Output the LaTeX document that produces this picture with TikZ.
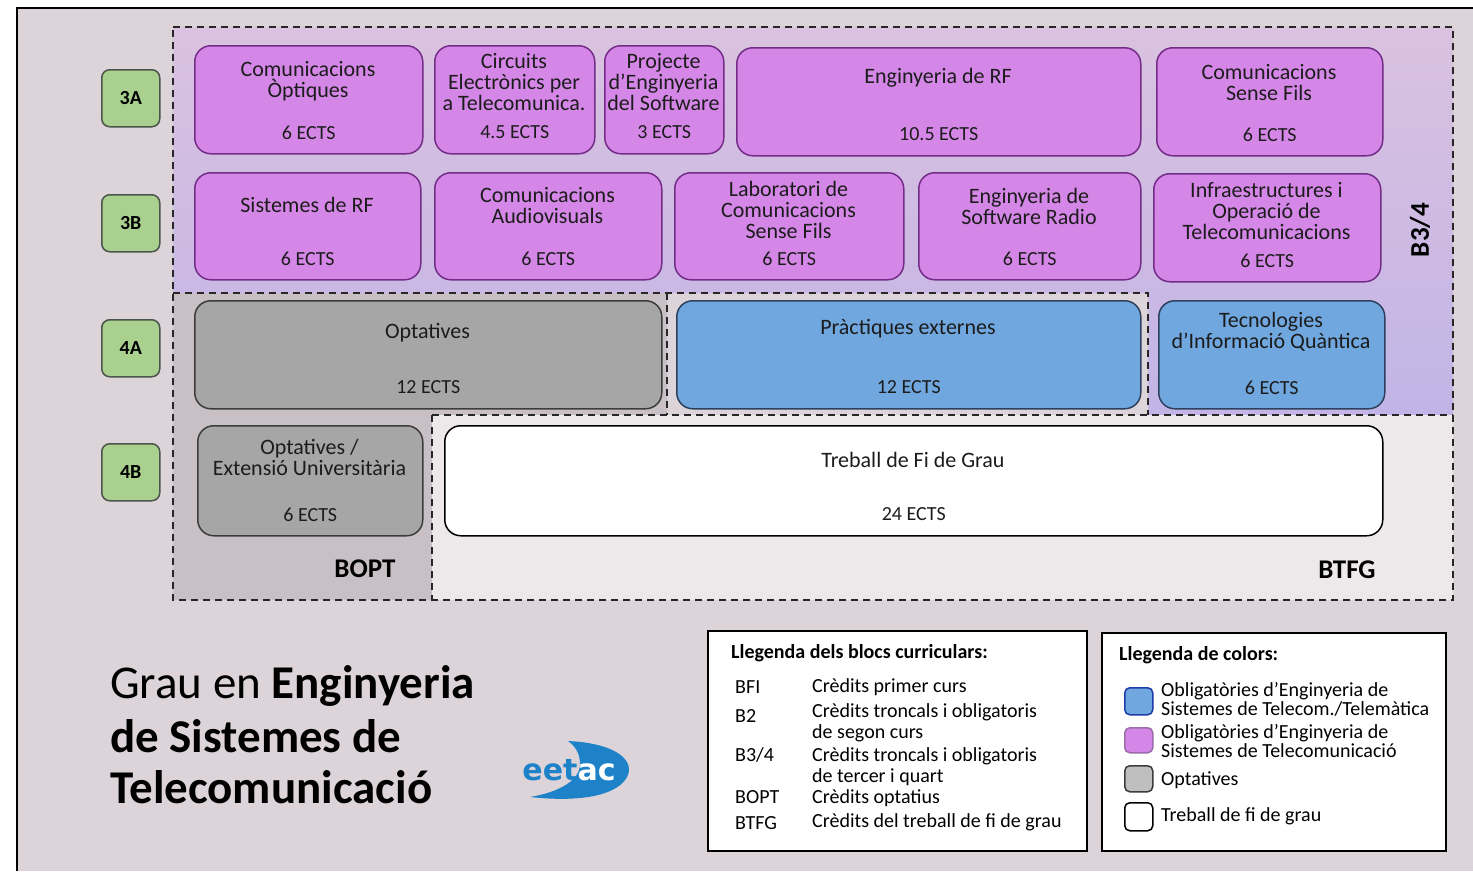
\documentclass[tikz,border=0pt]{standalone}
\usepackage{fontspec}
\setmainfont{Carlito}
\newfontfamily\logofont{DejaVu Sans}
\usetikzlibrary{calc}
\definecolor{pagebg}{RGB}{221,212,217}
\definecolor{boptbg}{RGB}{200,192,196}
\definecolor{btfgbg}{RGB}{237,233,235}
\definecolor{btop}{RGB}{218,194,224}
\definecolor{bbot}{RGB}{194,180,230}
\definecolor{cpurple}{RGB}{213,135,232}
\definecolor{cpurpleline}{RGB}{115,45,135}
\definecolor{cblue}{RGB}{111,167,222}
\definecolor{cblueline}{RGB}{45,65,95}
\definecolor{cgrey}{RGB}{166,166,166}
\definecolor{cgreyline}{RGB}{60,60,60}
\definecolor{cgreen}{RGB}{169,208,142}
\definecolor{cgreenline}{RGB}{75,85,75}
\definecolor{txt}{RGB}{28,28,28}
\definecolor{logoblue}{RGB}{30,130,200}
\definecolor{swblue}{RGB}{30,60,170}
\newcommand{\mkcourse}[9]{%
  \node[#2, anchor=north west, minimum width=#5pt-#3pt, minimum height=#6pt-#4pt] (#1) at (#3,#4) {};
  \node[ctext] (#1t) at ({(#3+#5)/2},#7) {#8};
  \node[etext] (#1e) at ([yshift=22pt]#1.south) {#9};
}
\begin{document}
\begin{tikzpicture}[x=1pt,y=-1pt,
  course/.style={rounded corners=16pt, line width=1.5pt, inner sep=0pt},
  pbox/.style={course, fill=cpurple, draw=cpurpleline},
  bbox/.style={course, fill=cblue, draw=cblueline},
  gbox/.style={course, fill=cgrey, draw=cgreyline},
  wbox/.style={course, fill=white, draw=black},
  ctext/.style={align=center, inner sep=0pt, text=txt, font=\fontsize{22}{21}\selectfont},
  etext/.style={inner sep=0pt, text=txt, font=\fontsize{20}{22}\selectfont},
  rowlab/.style={rounded corners=8pt, fill=cgreen, draw=cgreenline, line width=1.5pt, anchor=north west, minimum width=58pt, minimum height=57pt, inner sep=0pt, font=\bfseries\fontsize{20}{22}\selectfont},
  dashline/.style={line width=2pt, dash pattern=on 7pt off 5pt, draw=black!85},
  blocklab/.style={inner sep=0pt, font=\bfseries\fontsize{27}{30}\selectfont},
  legtext/.style={anchor=base west, inner sep=0pt, text=black, font=\fontsize{20}{22}\selectfont},
  swatch/.style={rounded corners=5pt, line width=1.5pt, anchor=north west, minimum width=28pt, minimum height=27pt, inner sep=0pt}
]
\useasboundingbox (0,0) rectangle (1473,871);
\fill[white] (0,0) rectangle (1473,871);
\fill[pagebg] (17,8) rectangle (1473,871);
\draw[line width=1.5pt] (17,871) -- (17,8) -- (1473,8);

% block regions
\shade[top color=btop, bottom color=bbot] (173,27) -- (1453,27) -- (1453,415) -- (1148,415) -- (1148,293) -- (173,293) -- cycle;
\fill[boptbg] (173,293) -- (667,293) -- (667,415) -- (432,415) -- (432,600) -- (173,600) -- cycle;
\fill[btfgbg] (432,415) rectangle (1453,600);
\draw[dashline] (173,27) -- (1453,27) -- (1453,600) -- (173,600) -- cycle;
\draw[dashline] (173,293) -- (1148,293) -- (1148,415);
\draw[dashline] (667,293) -- (667,415);
\draw[dashline] (432,415) -- (1453,415);
\draw[dashline] (432,415) -- (432,600);

% row labels
\node[rowlab] (r3a) at (101,69) {3A};
\node[rowlab] (r3b) at (101,194) {3B};
\node[rowlab] (r4a) at (101,319) {4A};
\node[rowlab] (r4b) at (101,443) {4B};

% courses
\mkcourse{co}{pbox}{194}{45}{422}{153}{81.5}{Comunicacions\\Òptiques}{6 ECTS}
\mkcourse{ce}{pbox}{434}{45}{594}{153}{82}{Circuits\\Electrònics per\\a Telecomunica.}{4.5 ECTS}
\mkcourse{pe}{pbox}{604}{45}{723}{153}{82}{Projecte\\d’Enginyeria\\del Software}{3 ECTS}
\mkcourse{er}{pbox}{736}{47}{1140}{155}{78}{Enginyeria de RF}{10.5 ECTS}
\mkcourse{cs}{pbox}{1156}{47}{1382}{155}{83}{Comunicacions\\Sense Fils}{6 ECTS}
\mkcourse{sr}{pbox}{194}{172}{420}{279}{205}{Sistemes de RF}{6 ECTS}
\mkcourse{ca}{pbox}{434}{172}{661}{279}{206}{Comunicacions\\Audiovisuals}{6 ECTS}
\mkcourse{lc}{pbox}{674}{172}{903}{279}{210}{Laboratori de\\Comunicacions\\Sense Fils}{6 ECTS}
\mkcourse{es}{pbox}{918}{172}{1140}{279}{206}{Enginyeria de\\Software Radio}{6 ECTS}
\mkcourse{io}{pbox}{1153}{173}{1380}{281}{211}{Infraestructures i\\Operació de\\Telecomunicacions}{6 ECTS}
\mkcourse{op}{gbox}{194}{300}{661}{408}{333}{Optatives}{12 ECTS}
\mkcourse{px}{bbox}{676}{300}{1140}{408}{329}{Pràctiques externes}{12 ECTS}
\mkcourse{tq}{bbox}{1158}{300}{1384}{408}{332}{Tecnologies\\d’Informació Quàntica}{6 ECTS}
\mkcourse{oe}{gbox}{197}{425}{422}{535}{457}{Optatives /\\Extensió Universitària}{6 ECTS}
\mkcourse{tf}{wbox}{444}{425}{1382}{535}{460}{Treball de Fi de Grau}{24 ECTS}

% block labels
\node[blocklab] (lbopt) at (365,569) {BOPT};
\node[blocklab] (lbtfg) at (1347,570) {BTFG};
\node[blocklab, rotate=90] (lb34) at (1420,230) {B3/4};

% title
\node[anchor=base west, inner sep=0pt, font=\fontsize{47}{52}\selectfont] (t1) at (110,698) {Grau en \textbf{Enginyeria}};
\node[anchor=base west, inner sep=0pt, font=\bfseries\fontsize{47}{52}\selectfont] (t2) at (110,752) {de Sistemes de};
\node[anchor=base west, inner sep=0pt, font=\bfseries\fontsize{47}{52}\selectfont] (t3) at (110,803) {Telecomunicació};

% logo
\fill[logoblue] (568,741) .. controls (612,743) and (634,758) .. (628,775) .. controls (620,794) and (585,803) .. (530,797) .. controls (560,792) and (580,780) .. (580,764) .. controls (580,753) and (575,746) .. (568,741) -- cycle;
\node[anchor=base, inner sep=0pt, font=\logofont\bfseries\fontsize{30}{32}\selectfont] (logo) at (569,780) {\textcolor{logoblue}{eet}\textcolor{white}{ac}};

% legend 1
\node[draw=black, fill=white, line width=1.5pt, anchor=north west, minimum width=379pt, minimum height=220pt, inner sep=0pt] (leg1) at (707,630) {};
\node[legtext, font=\bfseries\fontsize{20}{22}\selectfont] (l1h) at (731,658) {Llegenda dels blocs curriculars:};
\node[legtext] (a1) at (735,693) {BFI};
\node[legtext] (a2) at (735,722) {B2};
\node[legtext] (a3) at (735,761) {B3/4};
\node[legtext] (a4) at (735,803) {BOPT};
\node[legtext] (a5) at (735,829) {BTFG};
\node[legtext] (d1) at (812,692) {Crèdits primer curs};
\node[legtext] (d2) at (812,717) {Crèdits troncals i obligatoris};
\node[legtext] (d2b) at (812,738) {de segon curs};
\node[legtext] (d3) at (812,761) {Crèdits troncals i obligatoris};
\node[legtext] (d3b) at (812,782) {de tercer i quart};
\node[legtext] (d4) at (812,803) {Crèdits optatius};
\node[legtext] (d5) at (812,827) {Crèdits del treball de fi de grau};

% legend 2
\node[draw=black, fill=white, line width=1.5pt, anchor=north west, minimum width=344pt, minimum height=218pt, inner sep=0pt] (leg2) at (1101,632) {};
\node[legtext, font=\bfseries\fontsize{20}{22}\selectfont] (l2h) at (1119,660) {Llegenda de colors:};
\node[swatch, fill=cblue, draw=swblue] (s1) at (1124,687) {};
\node[swatch, fill=cpurple, draw=cpurpleline!70, minimum height=25pt] (s2) at (1124,727) {};
\node[swatch, fill=black!25, draw=cgreyline, minimum height=26pt] (s3) at (1124,765) {};
\node[swatch, fill=white, draw=black, minimum height=28pt] (s4) at (1124,802) {};
\node[legtext] (c1) at (1161,696) {Obligatòries d’Enginyeria de};
\node[legtext] (c1b) at (1161,715) {Sistemes de Telecom./Telemàtica};
\node[legtext] (c2) at (1161,738) {Obligatòries d’Enginyeria de};
\node[legtext] (c2b) at (1161,757) {Sistemes de Telecomunicació};
\node[legtext] (c3) at (1161,785) {Optatives};
\node[legtext] (c4) at (1161,821) {Treball de fi de grau};
\end{tikzpicture}
\end{document}
